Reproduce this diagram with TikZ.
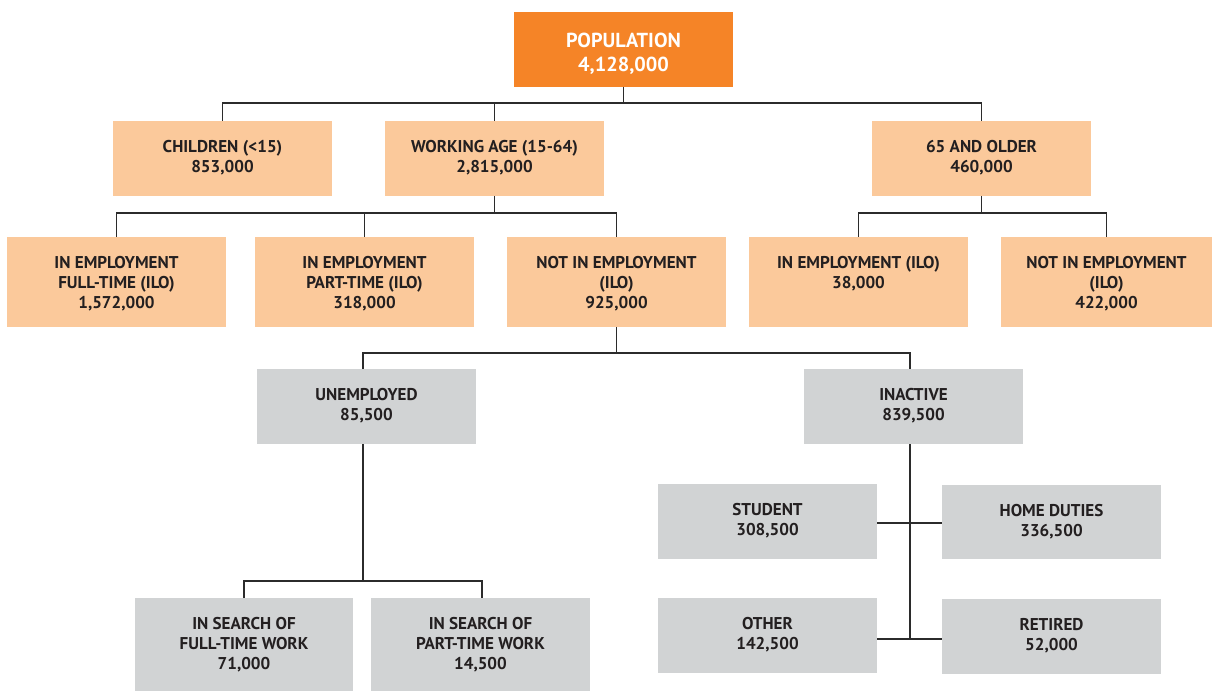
\documentclass[tikz,border=0pt]{standalone}
\usepackage{fontspec}
\setmainfont{PT Sans}
\usetikzlibrary{fit}
\definecolor{orangeC}{HTML}{F58427}
\definecolor{peachC}{HTML}{FBC99B}
\definecolor{greyC}{HTML}{D1D3D4}
\definecolor{inkC}{HTML}{231F20}
\definecolor{lineC}{HTML}{2B2B2B}
\tikzset{
  boxbase/.style={inner sep=0pt, outer sep=0pt, draw=none},
  orangebox/.style={boxbase, fill=orangeC},
  peachbox/.style={boxbase, fill=peachC},
  greybox/.style={boxbase, fill=greyC},
  lbl/.style={inner sep=0pt, align=center, text=inkC, font=\bfseries\fontsize{12.8}{15}\selectfont},
  toplbl/.style={inner sep=0pt, align=center, text=white, font=\bfseries\fontsize{15.2}{17.5}\selectfont},
  conn/.style={draw=lineC, line width=1.1pt}
}
\newcommand\bx[7]{%
  \node[#2, fit={(#3,#4) (#5,#6)}] (#1) {};
  \node[lbl, anchor=north] (#1-t) at ([yshift=-12.8pt]#1.north) {\rule{0pt}{10.5pt}#7};
}
\begin{document}
\begin{tikzpicture}[x=0.75pt,y=-0.75pt]
\useasboundingbox (0,0) rectangle (1212,691);
% top
\node[orangebox, fit={(514,12) (733,87)}] (pop) {};
\node[toplbl, anchor=north] (pop-t) at ([yshift=-14.2pt]pop.north) {\rule{0pt}{12.5pt}POPULATION\\4,128,000};
% level 1
\bx{child}{peachbox}{113}{121}{332}{196}{CHILDREN (<15)\\853,000}
\bx{wa}{peachbox}{385}{121}{604}{196}{WORKING AGE (15-64)\\2,815,000}
\bx{old}{peachbox}{872}{121}{1091}{196}{65 AND OLDER\\460,000}
% level 2
\bx{ft}{peachbox}{7}{237}{226}{327}{IN EMPLOYMENT\\FULL-TIME (ILO)\\1,572,000}
\bx{pt}{peachbox}{255}{237}{474}{327}{IN EMPLOYMENT\\PART-TIME (ILO)\\318,000}
\bx{nie}{peachbox}{507}{237}{726}{327}{NOT IN EMPLOYMENT\\(ILO)\\925,000}
\bx{oie}{peachbox}{749}{237}{968}{327}{IN EMPLOYMENT (ILO)\\38,000}
\bx{onie}{peachbox}{1001}{237}{1212}{327}{NOT IN EMPLOYMENT\\(ILO)\\422,000}
% level 3
\bx{unemp}{greybox}{257}{369}{476}{444}{UNEMPLOYED\\85,500}
\bx{inact}{greybox}{804}{369}{1023}{444}{INACTIVE\\839,500}
% level 4
\bx{sft}{greybox}{135}{598}{353}{691}{IN SEARCH OF\\FULL-TIME WORK\\71,000}
\bx{spt}{greybox}{371}{598}{590}{691}{IN SEARCH OF\\PART-TIME WORK\\14,500}
\bx{stud}{greybox}{658}{484}{877}{559}{STUDENT\\308,500}
\bx{home}{greybox}{942}{485}{1161}{559}{HOME DUTIES\\336,500}
\bx{other}{greybox}{658}{598}{877}{673}{OTHER\\142,500}
\bx{ret}{greybox}{942}{599}{1161}{674}{RETIRED\\52,000}
% connector levels
\coordinate (y1) at (0,103);
\coordinate (y2) at (0,213);
\coordinate (y3) at (0,353);
\coordinate (ux) at (363,0);
\coordinate (y4) at (0,581);
\coordinate (sx) at (482,0);
\coordinate (ix) at (910,0);
\coordinate (y5) at (0,523);
\coordinate (y6) at (0,639);
% population
\draw[conn] (pop.south) -- (pop.south |- y1);
\draw[conn] (child.north) |- (old.north |- y1) -- (old.north);
\draw[conn] (wa.north) -- (wa.north |- y1);
% working age
\draw[conn] (wa.south) -- (wa.south |- y2);
\draw[conn] (ft.north) |- (nie.north |- y2) -- (nie.north);
\draw[conn] (pt.north) -- (pt.north |- y2);
% 65 and older
\draw[conn] (old.south) -- (old.south |- y2);
\draw[conn] (oie.north) |- (onie.north |- y2) -- (onie.north);
% not in employment
\draw[conn] (nie.south) -- (nie.south |- y3);
\draw[conn] (unemp.north -| ux) -- (ux |- y3) -- (ix |- y3) -- (inact.north -| ix);
% unemployed
\draw[conn] (unemp.south -| ux) -- (ux |- y4);
\draw[conn] (sft.north) -- (sft.north |- y4) -- (sx |- y4) -- (spt.north -| sx);
% inactive
\draw[conn] (inact.south -| ix) -- (ix |- y6);
\draw[conn] (stud.east |- y5) -- (home.west |- y5);
\draw[conn] (other.east |- y6) -- (ret.west |- y6);
\end{tikzpicture}
\end{document}
